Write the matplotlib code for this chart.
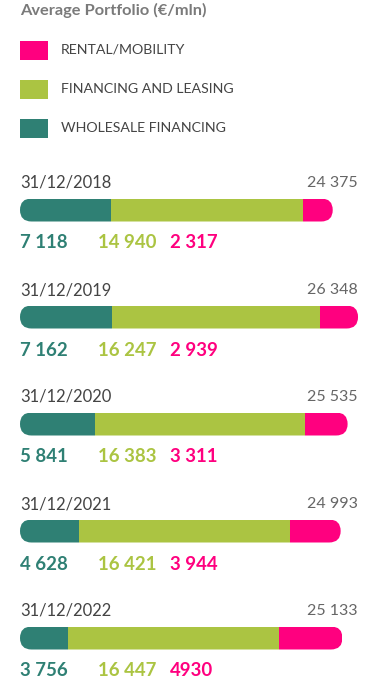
"""Average Portfolio (EUR/mln) - stacked rounded bars per year."""

import matplotlib

matplotlib.use("Agg")
import matplotlib.pyplot as plt
from matplotlib.patches import FancyBboxPatch, Rectangle

plt.rcParams["font.family"] = ["Lato", "DejaVu Sans"]

# Datos
dates = ["31/12/2018", "31/12/2019", "31/12/2020", "31/12/2021", "31/12/2022"]
wholesale = [7118, 7162, 5841, 4628, 3756]
financing = [14940, 16247, 16383, 16421, 16447]
rental = [2317, 2939, 3311, 3944, 4930]
wholesale_labels = ["7 118", "7 162", "5 841", "4 628", "3 756"]
financing_labels = ["14 940", "16 247", "16 383", "16 421", "16 447"]
rental_labels = ["2 317", "2 939", "3 311", "3 944", "4930"]
total_labels = ["24 375", "26 348", "25 535", "24 993", "25 133"]
legend_names = ["RENTAL/MOBILITY", "FINANCING AND LEASING", "WHOLESALE FINANCING"]

PINK = "#FF007F"
GREEN = "#ABC442"
TEAL = "#2F8074"
DARK = "#444444"
GREY = "#666666"

K = 0.01283  # px por unidad
X0 = 20      # borde izquierdo en px


def px(x):
    """Convierte coordenada en pixeles a unidades de datos."""
    return (x - X0) / K


fig = plt.figure(figsize=(3.8, 6.77), dpi=100)
ax = fig.add_axes([0, 0, 1, 1])
ax.set_xlim(px(0), px(380))
ax.set_ylim(677, 0)
ax.axis("off")

ax.text(px(20), 10, "Average Portfolio (€/mln)", fontsize=11.8, fontweight="bold",
        color="#7a7a7a", va="center", ha="left")

for i, (name, col) in enumerate(zip(legend_names, [PINK, GREEN, TEAL])):
    yc = 50 + 39 * i
    ax.add_patch(Rectangle((px(20), yc - 9.5), px(48) - px(20), 19, color=col, lw=0))
    ax.text(px(61), yc, name, fontsize=10.2, color=DARK, va="center", ha="left")

bar_h = 23
for i, d in enumerate(dates):
    g = 183 + 107 * i
    yc = g + 27
    total = wholesale[i] + financing[i] + rental[i]
    ax.text(px(20), g, d, fontsize=11.9, color=DARK, va="center", ha="left")
    ax.text(px(358), g, total_labels[i], fontsize=11.5, color=GREY, va="center", ha="right")

    clip = FancyBboxPatch((0, yc - bar_h / 2), total, bar_h,
                          boxstyle=f"round,pad=0,rounding_size={bar_h / 2 / K}",
                          mutation_aspect=K, facecolor="none", edgecolor="none")
    ax.add_patch(clip)
    bars = []
    bars += ax.barh(yc, wholesale[i], left=0, height=bar_h, color=TEAL, lw=0)
    bars += ax.barh(yc, financing[i], left=wholesale[i], height=bar_h, color=GREEN, lw=0)
    bars += ax.barh(yc, rental[i], left=wholesale[i] + financing[i], height=bar_h,
                    color=PINK, lw=0)
    for b in bars:
        b.set_clip_path(clip)

    ax.text(px(20), g + 60, wholesale_labels[i], fontsize=13.4, fontweight="bold",
            color=TEAL, va="center", ha="left")
    ax.text(px(98), g + 60, financing_labels[i], fontsize=13.4, fontweight="bold",
            color=GREEN, va="center", ha="left")
    ax.text(px(170), g + 60, rental_labels[i], fontsize=13.4, fontweight="bold",
            color=PINK, va="center", ha="left")

fig.savefig("out.png", dpi=100)
plt.close(fig)
